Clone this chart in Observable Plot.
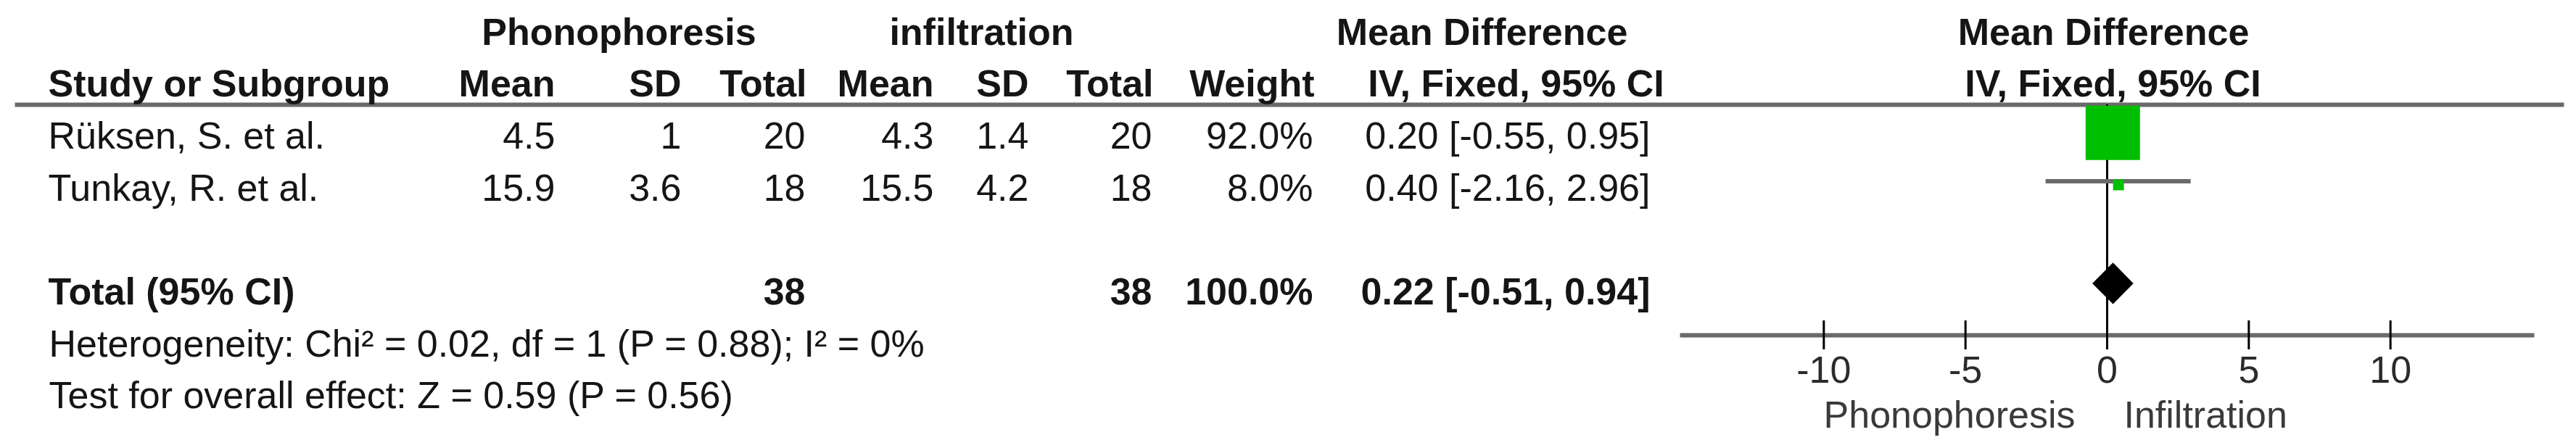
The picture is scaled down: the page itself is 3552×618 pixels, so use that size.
<!DOCTYPE html>
<html><head><meta charset="utf-8">
<script src="https://cdn.jsdelivr.net/npm/d3@7"></script>
<script src="https://cdn.jsdelivr.net/npm/@observablehq/plot@0.6"></script>
<style>body{margin:0;background:#fff;} #chart svg{display:block}</style>
</head><body><div id="chart"></div>
<script>
// ---------- data ----------
const studies = ["Rüksen, S. et al.", "Tunkay, R. et al."];
const phonoMean = [4.5, 15.9];
const phonoSD = [1, 3.6];
const phonoTotal = [20, 18];
const infilMean = [4.3, 15.5];
const infilSD = [1.4, 4.2];
const infilTotal = [20, 18];
const weightPct = [92.0, 8.0];
const meanDiff = [0.20, 0.40];
const ciLower = [-0.55, -2.16];
const ciUpper = [0.95, 2.96];
const totalLabel = "Total (95% CI)";
const totalPhono = 38, totalInfil = 38, totalWeight = 100.0;
const pooledMD = 0.22, pooledLower = -0.51, pooledUpper = 0.94;
const heterogeneityText = "Heterogeneity: Chi² = 0.02, df = 1 (P = 0.88); I² = 0%";
const overallEffectText = "Test for overall effect: Z = 0.59 (P = 0.56)";
const groupHeaders = ["Phonophoresis", "infiltration", "Mean Difference", "Mean Difference"];
const columnHeaders = ["Study or Subgroup", "Mean", "SD", "Total", "Mean", "SD", "Total", "Weight", "IV, Fixed, 95% CI", "IV, Fixed, 95% CI"];
const xTicks = [-10, -5, 0, 5, 10];
const favoursLabels = ["Phonophoresis", "Infiltration"];
const xDomain = [-15, 15];

// ---------- layout / style ----------
const W = 3552, H = 618;
const mL = 2319, mR = 61, mT = 144, mB = 156;
const FS = 52;
const ink = "#151515";
const green = "#00bf00";
const lineGray = "#6a6a6a";
const font = "'Liberation Sans', Arial, Helvetica, sans-serif";
const ROW = {group: 0, header: 1, study0: 2, total: 5, het: 6, test: 7};
const groupPos = [{x: 853, a: "middle"}, {x: 1353, a: "middle"}, {x: 2043, a: "middle"}, {x: 2900, a: "middle"}];
const headerPos = [{x: 66, a: "start"}, {x: 765, a: "end"}, {x: 939, a: "end"}, {x: 1112, a: "end"},
  {x: 1287, a: "end"}, {x: 1418, a: "end"}, {x: 1590, a: "end"}, {x: 1812, a: "end"},
  {x: 2090, a: "middle"}, {x: 2913, a: "middle"}];
const bodyPos = {
  name: {x: 66, a: "start"}, phMean: {x: 765, a: "end"}, phSD: {x: 939, a: "end"}, phTotal: {x: 1110, a: "end"},
  inMean: {x: 1287, a: "end"}, inSD: {x: 1418, a: "end"}, inTotal: {x: 1588, a: "end"},
  weight: {x: 1810, a: "end"}, ci: {x: 2275, a: "end"}
};

// ---------- tables built from the arrays ----------
const fmtCI = (m, l, u) => `${m.toFixed(2)} [${l.toFixed(2)}, ${u.toFixed(2)}]`;
const studyRows = studies.map((s, i) => ({
  row: ROW.study0 + i, name: s,
  phMean: String(phonoMean[i]), phSD: String(phonoSD[i]), phTotal: String(phonoTotal[i]),
  inMean: String(infilMean[i]), inSD: String(infilSD[i]), inTotal: String(infilTotal[i]),
  weight: weightPct[i].toFixed(1) + "%", ci: fmtCI(meanDiff[i], ciLower[i], ciUpper[i]),
  md: meanDiff[i], lo: ciLower[i], hi: ciUpper[i], w: weightPct[i]
}));
const totalRows = [{
  row: ROW.total, name: totalLabel, phTotal: String(totalPhono), inTotal: String(totalInfil),
  weight: totalWeight.toFixed(1) + "%", ci: fmtCI(pooledMD, pooledLower, pooledUpper)
}];
const groupRows = groupHeaders.map((t, i) => ({row: ROW.group, t, i}));
const headerRows = columnHeaders.map((t, i) => ({row: ROW.header, t, i}));
const footRows = [{row: ROW.het, t: heterogeneityText}, {row: ROW.test, t: overallEffectText}];
const diamond = [
  {x: pooledLower, y1: ROW.total, y2: ROW.total},
  {x: pooledMD, y1: ROW.total - 0.4, y2: ROW.total + 0.4},
  {x: pooledUpper, y1: ROW.total, y2: ROW.total}
];

const txt = (data, text, pos, bold, extra = {}) => Plot.text(data, {
  y: "row", text, frameAnchor: "left", dx: pos.x - mL, textAnchor: pos.a, lineAnchor: "middle",
  fontSize: FS, fontWeight: bold ? "bold" : "normal", fill: ink, fontFamily: font, ...extra
});

const marks = [];
// header rule and zero line, axis line
marks.push(Plot.frame({anchor: "top", stroke: lineGray, strokeWidth: 6, insetLeft: 23 - mL, insetRight: (W - mR) - 3532}));
marks.push(Plot.ruleX([0], {stroke: "black", strokeWidth: 3}));
marks.push(Plot.frame({anchor: "bottom", stroke: lineGray, strokeWidth: 6}));
marks.push(Plot.axisX(xTicks, {tickSize: 40, dy: -20, tickPadding: 9, tickFormat: d => String(d),
  fontSize: FS, fontFamily: font, stroke: "black", strokeWidth: 3, fill: "#2b2b2b", label: null}));
// forest
marks.push(Plot.ruleY(studyRows, {y: "row", x1: "lo", x2: "hi", stroke: lineGray, strokeWidth: 6, dy: -10}));
marks.push(Plot.dot(studyRows, {x: "md", y: "row", r: "w", symbol: "square", fill: green, stroke: null, dy: -5}));
marks.push(Plot.areaY(diamond, {x: "x", y1: "y1", y2: "y2", fill: "black", dy: -12}));
// favours labels
marks.push(Plot.text([favoursLabels[0]], {text: d => d, frameAnchor: "bottom", lineAnchor: "middle", dx: -44, dy: 111, textAnchor: "end", fontSize: FS, fontFamily: font, fill: "#3a3a3a"}));
marks.push(Plot.text([favoursLabels[1]], {text: d => d, frameAnchor: "bottom", lineAnchor: "middle", dx: 23, dy: 111, textAnchor: "start", fontSize: FS, fontFamily: font, fill: "#3a3a3a"}));
// table text
groupRows.forEach(g => marks.push(txt([g], "t", groupPos[g.i], true)));
headerRows.forEach(h => marks.push(txt([h], "t", headerPos[h.i], true)));
for (const k of Object.keys(bodyPos)) marks.push(txt(studyRows, k, bodyPos[k], false));
for (const k of ["name", "phTotal", "inTotal", "weight", "ci"]) marks.push(txt(totalRows, k, bodyPos[k], true));
marks.push(txt(footRows, "t", {x: 67, a: "start"}, false));

const chart = Plot.plot({
  width: W, height: H,
  marginLeft: mL, marginRight: mR, marginTop: mT, marginBottom: mB,
  style: {fontFamily: font, fontSize: FS + "px", background: "#fff", color: ink},
  x: {domain: xDomain},
  y: {domain: [0, 7], range: [44.4, 546.3], axis: null},
  r: {type: "linear", domain: [8, 92], range: [15 / Math.sqrt(Math.PI), 75 / Math.sqrt(Math.PI)]},
  marks
});
document.getElementById("chart").appendChild(chart);
</script>
</body></html>
